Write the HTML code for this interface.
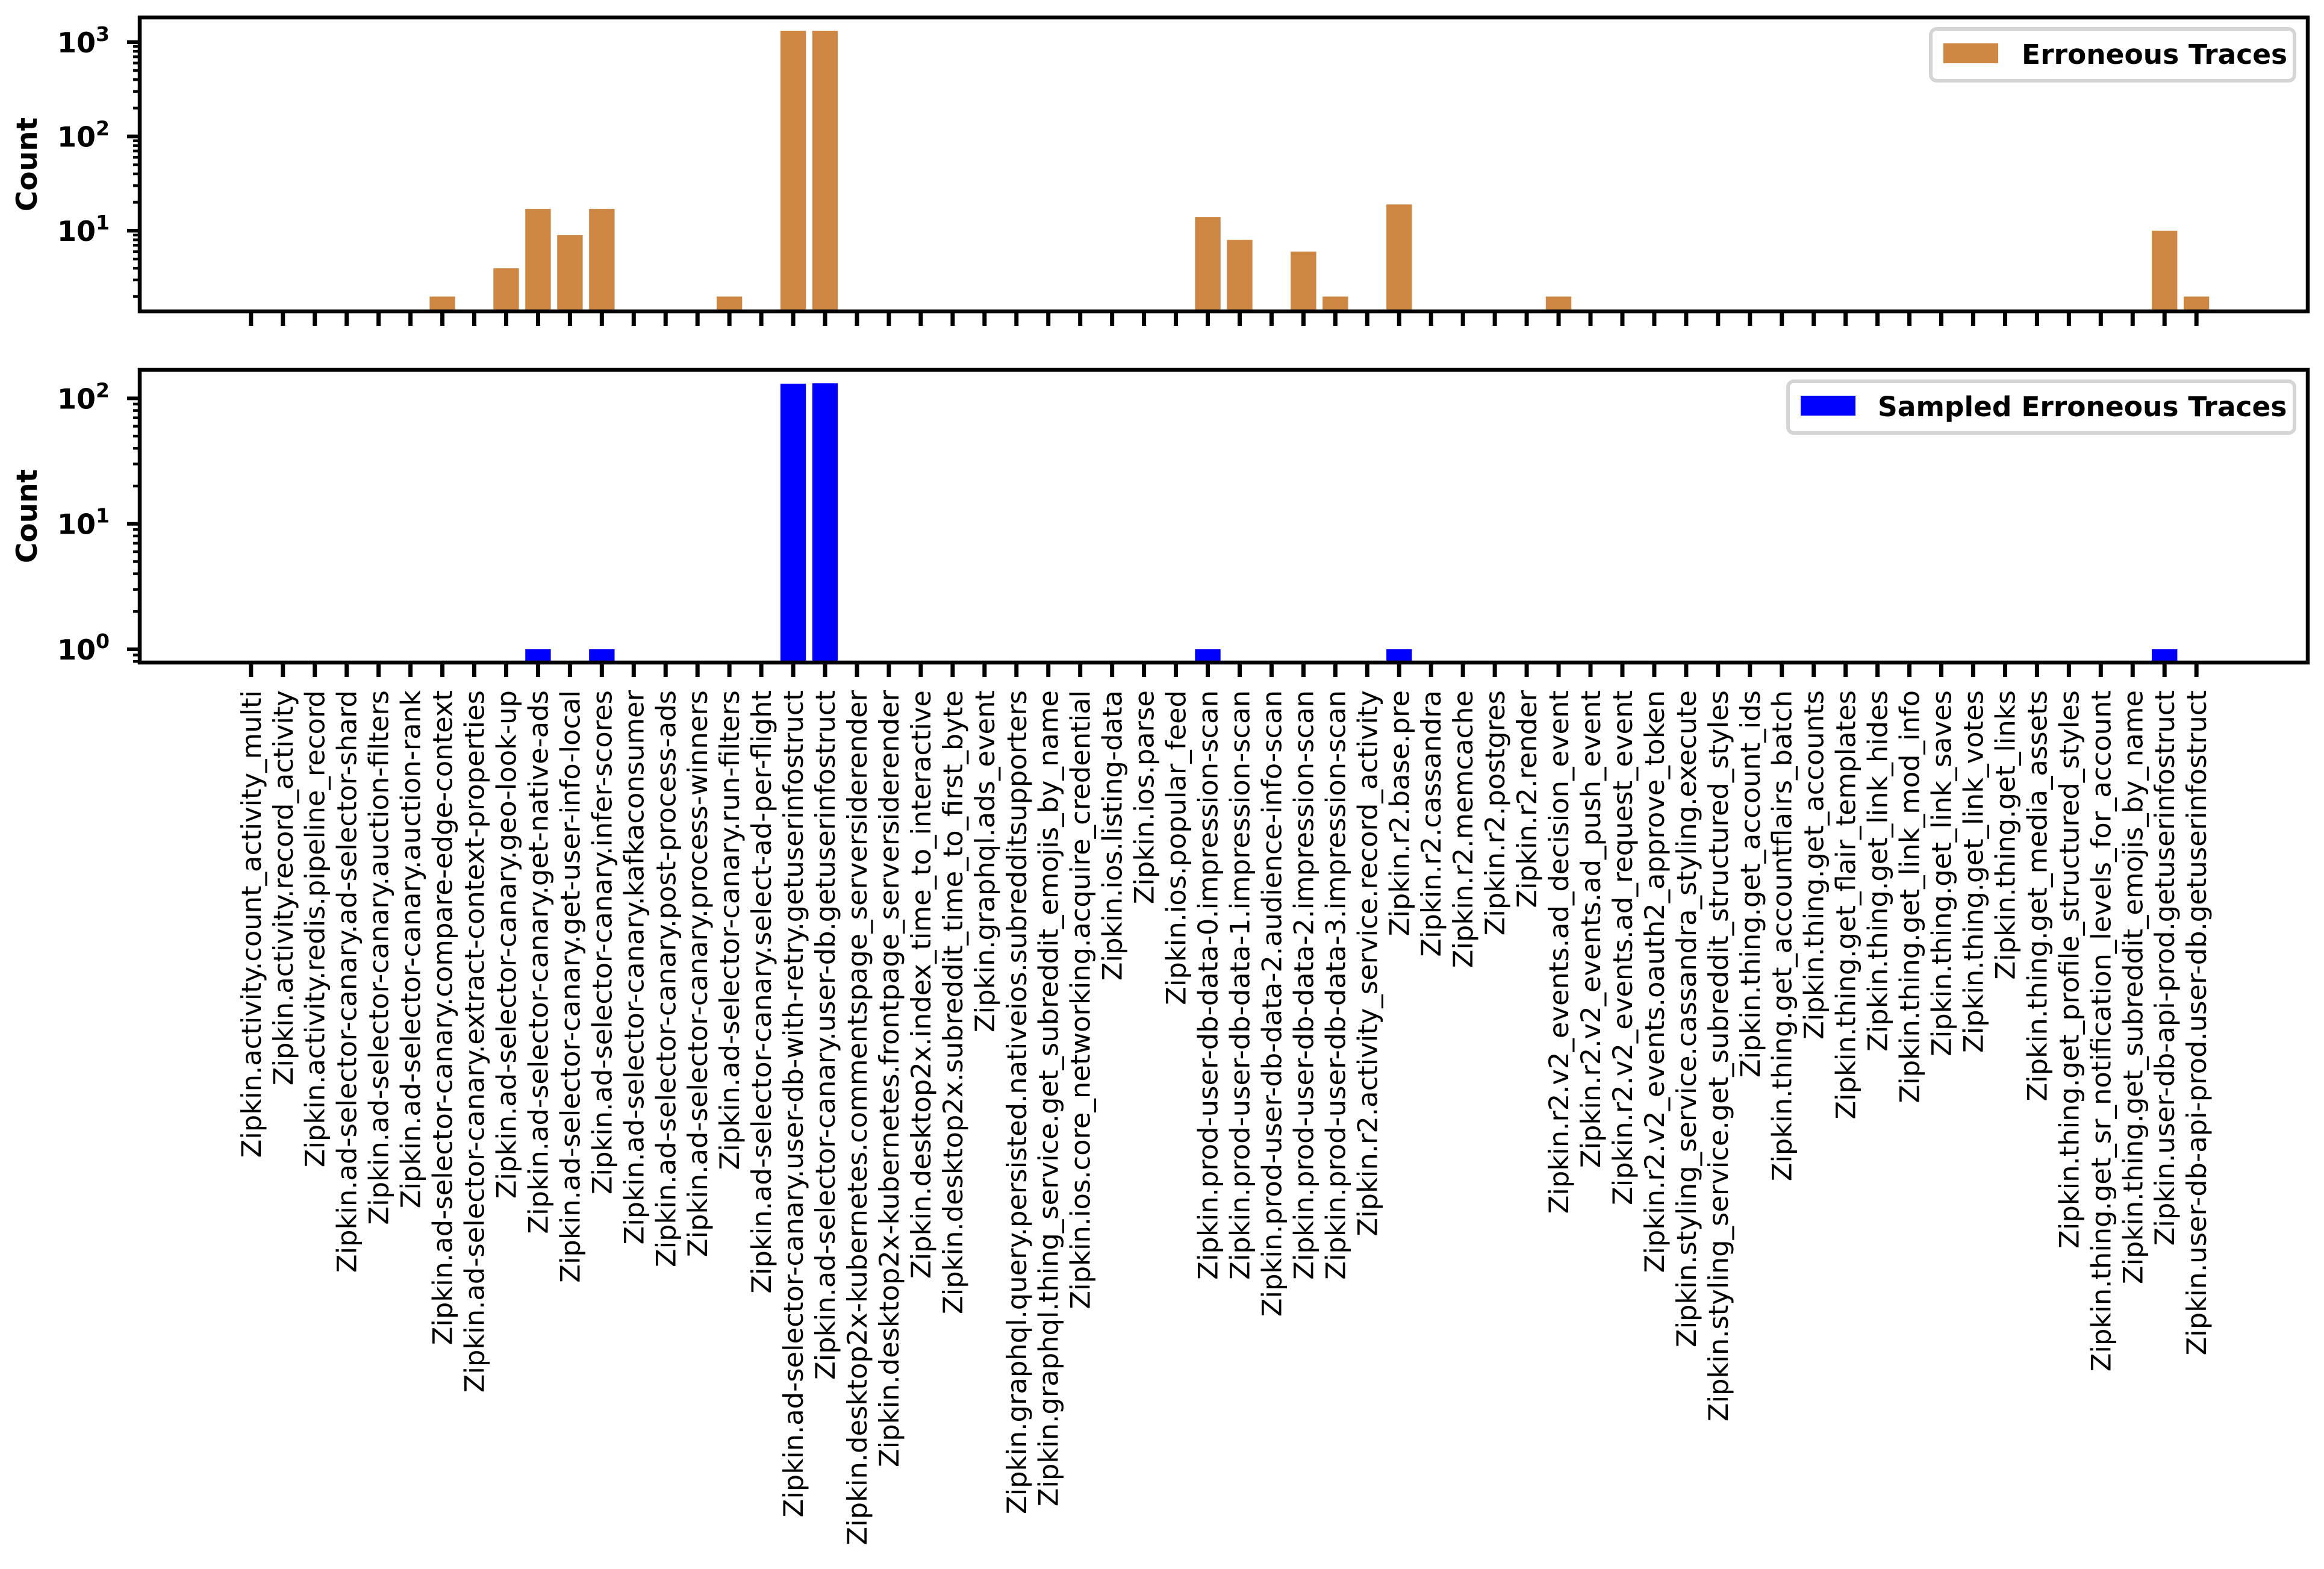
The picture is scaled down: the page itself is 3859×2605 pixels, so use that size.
<!DOCTYPE html>
<html><head><meta charset="utf-8"><style>
html,body{margin:0;padding:0;background:#fff}
svg{display:block}
text{font-family:"DejaVu Sans","Liberation Sans",sans-serif}
</style></head><body>
<svg id="chart" width="3859" height="2605" viewBox="0 0 3859 2605" xmlns="http://www.w3.org/2000/svg">
<rect x="0" y="0" width="3859" height="2605" fill="#fff"/>
<g id="top"></g>
<g id="bot"></g>
<g id="xlabels"></g>
</svg>
<script>
const categories = ["Zipkin.activity.count_activity_multi","Zipkin.activity.record_activity","Zipkin.activity.redis.pipeline_record","Zipkin.ad-selector-canary.ad-selector-shard","Zipkin.ad-selector-canary.auction-filters","Zipkin.ad-selector-canary.auction-rank","Zipkin.ad-selector-canary.compare-edge-context","Zipkin.ad-selector-canary.extract-context-properties","Zipkin.ad-selector-canary.geo-look-up","Zipkin.ad-selector-canary.get-native-ads","Zipkin.ad-selector-canary.get-user-info-local","Zipkin.ad-selector-canary.infer-scores","Zipkin.ad-selector-canary.kafkaconsumer","Zipkin.ad-selector-canary.post-process-ads","Zipkin.ad-selector-canary.process-winners","Zipkin.ad-selector-canary.run-filters","Zipkin.ad-selector-canary.select-ad-per-flight","Zipkin.ad-selector-canary.user-db-with-retry.getuserinfostruct","Zipkin.ad-selector-canary.user-db.getuserinfostruct","Zipkin.desktop2x-kubernetes.commentspage_serversiderender","Zipkin.desktop2x-kubernetes.frontpage_serversiderender","Zipkin.desktop2x.index_time_to_interactive","Zipkin.desktop2x.subreddit_time_to_first_byte","Zipkin.graphql.ads_event","Zipkin.graphql.query.persisted.nativeios.subredditsupporters","Zipkin.graphql.thing_service.get_subreddit_emojis_by_name","Zipkin.ios.core_networking.acquire_credential","Zipkin.ios.listing-data","Zipkin.ios.parse","Zipkin.ios.popular_feed","Zipkin.prod-user-db-data-0.impression-scan","Zipkin.prod-user-db-data-1.impression-scan","Zipkin.prod-user-db-data-2.audience-info-scan","Zipkin.prod-user-db-data-2.impression-scan","Zipkin.prod-user-db-data-3.impression-scan","Zipkin.r2.activity_service.record_activity","Zipkin.r2.base.pre","Zipkin.r2.cassandra","Zipkin.r2.memcache","Zipkin.r2.postgres","Zipkin.r2.render","Zipkin.r2.v2_events.ad_decision_event","Zipkin.r2.v2_events.ad_push_event","Zipkin.r2.v2_events.ad_request_event","Zipkin.r2.v2_events.oauth2_approve_token","Zipkin.styling_service.cassandra_styling.execute","Zipkin.styling_service.get_subreddit_structured_styles","Zipkin.thing.get_account_ids","Zipkin.thing.get_accountflairs_batch","Zipkin.thing.get_accounts","Zipkin.thing.get_flair_templates","Zipkin.thing.get_link_hides","Zipkin.thing.get_link_mod_info","Zipkin.thing.get_link_saves","Zipkin.thing.get_link_votes","Zipkin.thing.get_links","Zipkin.thing.get_media_assets","Zipkin.thing.get_profile_structured_styles","Zipkin.thing.get_sr_notification_levels_for_account","Zipkin.thing.get_subreddit_emojis_by_name","Zipkin.user-db-api-prod.getuserinfostruct","Zipkin.user-db-api-prod.user-db.getuserinfostruct"];
const erroneous = [1,1,1,1,1,1,2,1,4,17,9,17,1,1,1,2,1,1320,1320,1,1,1,1,1,1,1,1,1,1,1,14,8,1,6,2,1,19,1,1,1,1,2,1,1,1,1,1,1,1,1,1,1,1,1,1,1,1,1,1,1,10,2];
const sampled = [0,0,0,0,0,0,0,0,0,1,0,1,0,0,0,0,0,131,132,0,0,0,0,0,0,0,0,0,0,0,1,0,0,0,0,0,1,0,0,0,0,0,0,0,0,0,0,0,0,0,0,0,0,0,0,0,0,0,0,0,1,0];
const topTicks = ["10","10","10"], topExp = ["1","2","3"], topTickVals = [10,100,1000];
const botTicks = ["10","10","10"], botExp = ["0","1","2"], botTickVals = [1,10,100];

const NS="http://www.w3.org/2000/svg";
const L=232, R=3832;
const n=categories.length;
const xmin=-0.4-0.05*(n-1+0.8), xmax=(n-1)+0.4+0.05*(n-1+0.8);
function xs(i){return L+(i-xmin)/(xmax-xmin)*(R-L);}
const bw=0.8*(R-L)/(xmax-xmin);
function mk(tag,attrs,parent){const e=document.createElementNS(NS,tag);for(const k in attrs)e.setAttribute(k,attrs[k]);parent.appendChild(e);return e;}

function panel(g,top,bottom,yDec,decPx,values,color,tickVals,tickBase,tickExp,legendText,legendBox,name){
  const ys=v=>yDec.y-(Math.log10(v)-Math.log10(yDec.v))*decPx;
  const cp=mk('clipPath',{id:'clip-'+name},g);
  mk('rect',{x:L,y:top,width:R-L,height:bottom-top},cp);
  const bars=mk('g',{'clip-path':'url(#clip-'+name+')'},g);
  values.forEach((v,i)=>{
    if(v<=0)return;
    const yt=ys(v);
    const r=mk('rect',{x:xs(i)-bw/2,y:yt,width:bw,height:Math.max(0,bottom+10-yt),fill:color},bars);
    
    
  });
  const lo=Math.pow(10,Math.log10(yDec.v)-(bottom-yDec.y)/decPx), hi=Math.pow(10,Math.log10(yDec.v)+(yDec.y-top)/decPx);
  for(let e=Math.floor(Math.log10(lo))-1;e<=Math.ceil(Math.log10(hi));e++){
    for(let m=2;m<=9;m++){const v=m*Math.pow(10,e);if(v<lo||v>hi)continue;const y=ys(v);
      mk('line',{x1:L-11,x2:L,y1:y,y2:y,stroke:'#000','stroke-width':4.5},g);}
  }
  tickVals.forEach((v,k)=>{
    const y=ys(v);
    mk('line',{x1:L-21,x2:L,y1:y,y2:y,stroke:'#000','stroke-width':6},g);
    const t=mk('text',{x:L-50,y:y+17,'text-anchor':'end','font-size':46,'font-weight':'bold'},g);
    
    
    t.textContent=tickBase[k];
    const s=mk('tspan',{dy:-19,'font-size':33},t);s.textContent=tickExp[k];
  });
  categories.forEach((c,i)=>{const x=xs(i);mk('line',{x1:x,x2:x,y1:bottom,y2:bottom+24,stroke:'#000','stroke-width':7},g);});
  const yl=mk('text',{transform:`translate(61,${(top+bottom)/2}) rotate(-90)`,'text-anchor':'middle','font-size':47,'font-weight':'bold'},g);
  
  
  yl.textContent='Count';
  mk('rect',{x:L,y:top,width:R-L,height:bottom-top,fill:'none',stroke:'#000','stroke-width':6.5},g);
  const lg=mk('g',{},g);
  
  
  mk('rect',{x:legendBox.x,y:legendBox.y,width:3810-legendBox.x,height:86,rx:10,fill:'#fff',stroke:'#d5d5d5','stroke-width':6},lg);
  mk('rect',{x:legendBox.x+21,y:legendBox.y+24,width:91,height:33,fill:color},lg);
  const lt=mk('text',{x:legendBox.tx,y:legendBox.y+58,'font-size':45.5,'font-weight':'bold'},lg);
  lt.textContent=legendText;
}
panel(document.getElementById('top'),29,517,{v:10,y:383},156.5,erroneous,'#cd8742',topTickVals,topTicks,topExp,'Erroneous Traces',{x:3206,y:48,tx:3357},'erroneous');
panel(document.getElementById('bot'),614,1100,{v:1,y:1078},208.3,sampled,'#0000ff',botTickVals,botTicks,botExp,'Sampled Erroneous Traces',{x:2969,y:633,tx:3118},'sampled');
const xl=document.getElementById('xlabels');
categories.forEach((c,i)=>{
  const t=mk('text',{transform:`translate(${xs(i)+16},1146) rotate(-90)`,'text-anchor':'end','font-size':44.8},xl);
  
  
  t.textContent=c;
});
</script>
</body></html>
